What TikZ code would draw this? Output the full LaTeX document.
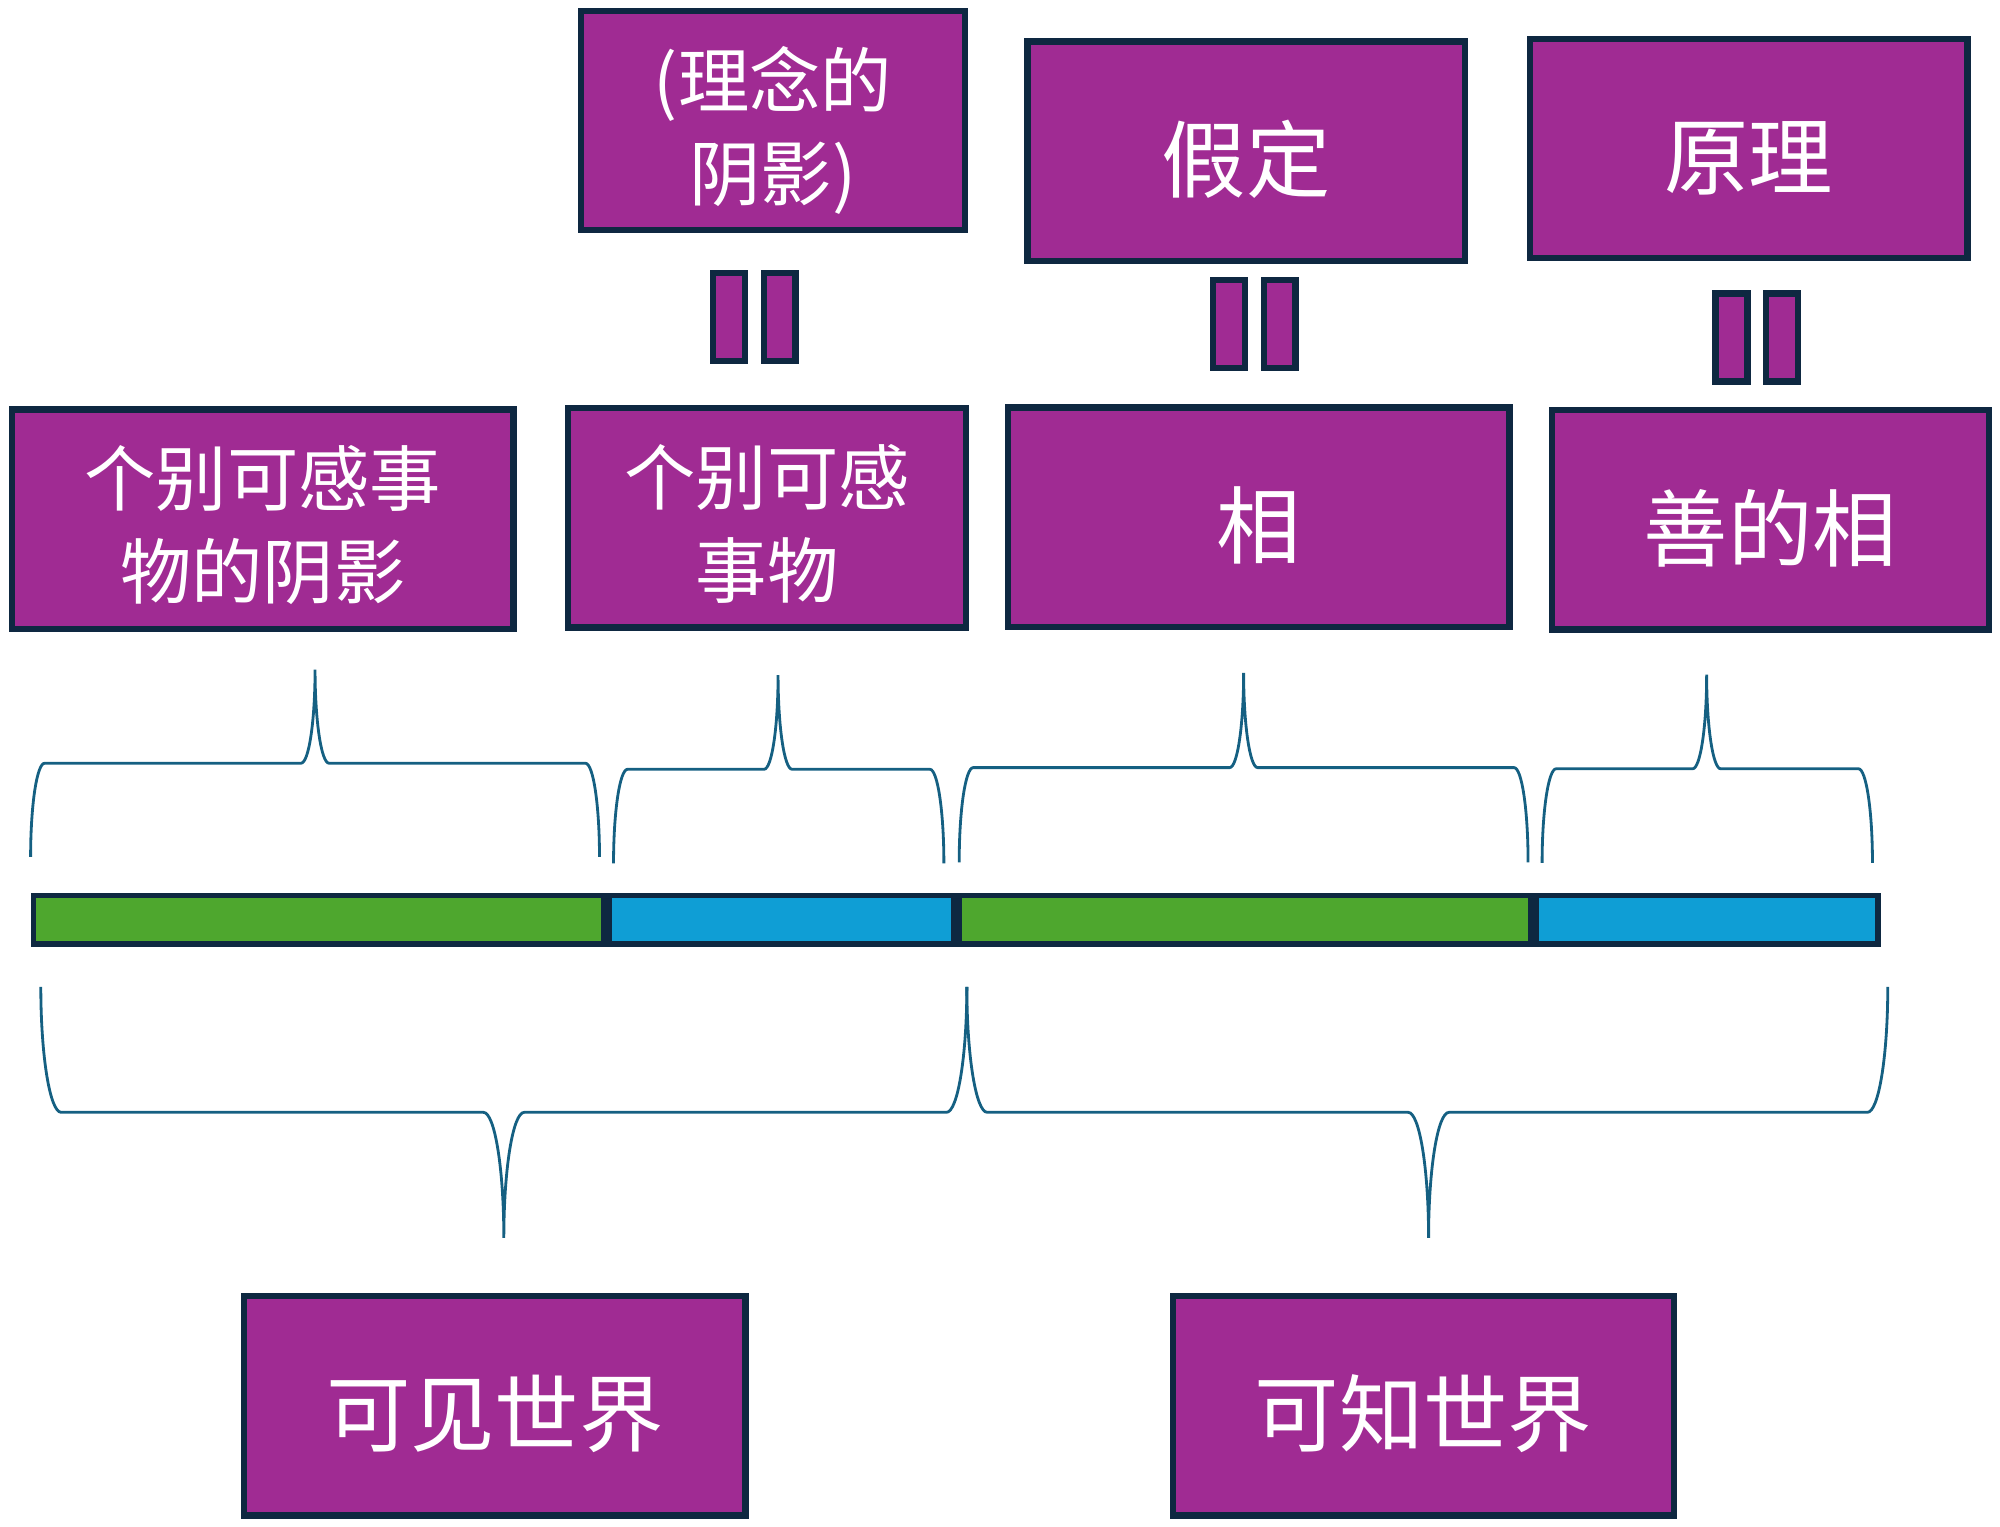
\documentclass[tikz,border=0pt]{standalone}
\usepackage{fontspec}
\setmainfont{Noto Sans CJK SC}
\usetikzlibrary{positioning}
\definecolor{boxfill}{HTML}{A02B93}
\definecolor{boxline}{HTML}{0E2841}
\definecolor{greenbar}{HTML}{4EA72E}
\definecolor{bluebar}{HTML}{0F9ED5}
\definecolor{bracecol}{HTML}{156082}
\def\pxu{0.012755cm}
\tikzset{
    box/.style={draw=boxline, line width=1.8pt, fill=boxfill, text=white, align=center,
        inner sep=0pt, minimum height=172*\pxu},
    twoline/.style={font=\fontsize{20.3}{26.5}\selectfont, text height=47.3pt, text depth=2pt},
    oneline/.style={font=\fontsize{24}{28}\selectfont, text height=25.9pt, text depth=3pt},
    eqbar/.style={draw=boxline, line width=1.8pt, fill=boxfill, inner sep=0pt,
        minimum width=25*\pxu, minimum height=69*\pxu},
    seg/.style={draw=boxline, line width=1.6pt, inner sep=0pt, minimum height=38*\pxu},
    brace/.style={draw=bracecol, line width=0.8pt},
}
% left x, right x, tip x, end y, tip y, corner
\newcommand{\drawbrace}[6]{%
    \pgfmathsetmacro\bym{(#4+#5)/2}
    \pgfmathsetmacro\byk{0.5523*(#4-#5)/2}
    \pgfmathsetmacro\bxk{0.5523*#6}
    \draw[brace] (#1,#4) .. controls (#1,{#4-(\byk)}) and ({#1+#6-\bxk},\bym) .. ({#1+#6},\bym)
        -- ({#3-#6},\bym) .. controls ({#3-#6+\bxk},\bym) and (#3,{#5+(\byk)}) .. (#3,#5)
        .. controls (#3,{#5+(\byk)}) and ({#3+#6-\bxk},\bym) .. ({#3+#6},\bym)
        -- ({#2-#6},\bym) .. controls ({#2-#6+\bxk},\bym) and (#2,{#4-(\byk)}) .. (#2,#4);
}

\begin{document}
\begin{tikzpicture}[x=0.012755cm, y=-0.012755cm]
    \useasboundingbox (0,0) rectangle (1568,1196.4);
    % top row
    \node[box, twoline, minimum width=301*\pxu] (t1) at (606,94.5) {(理念的\\阴影)};
    \node[box, oneline, minimum width=343*\pxu] (t2) at (977,118.5) {假定};
    \node[box, oneline, minimum width=343*\pxu] (t3) at (1371,116.5) {原理};
    % second row
    \node[box, twoline, minimum width=393*\pxu] (s1) at (206,407) {个别可感事\\物的阴影};
    \node[box, twoline, minimum width=312*\pxu] (s2) at (601.5,406) {个别可感\\事物};
    \node[box, oneline, minimum width=393*\pxu] (s3) at (987,405.5) {相};
    \node[box, oneline, minimum width=343*\pxu] (s4) at (1388,407.5) {善的相};
    % equals signs
    \foreach \x/\y [count=\i] in {571.5/248.5, 963.5/254, 1357.5/264.5} {
        \node[eqbar] (e\i a) at (\x,\y) {};
        \node[eqbar, right=0.125cm of e\i a] (e\i b) {};
    }
    % the line
    \node[seg, fill=greenbar, minimum width=447*\pxu, anchor=west] (g1) at (24,721) {};
    \node[seg, fill=bluebar, minimum width=270*\pxu, right=0pt of g1] (b1) {};
    \node[seg, fill=greenbar, minimum width=448*\pxu, right=0pt of b1] (g2) {};
    \node[seg, fill=bluebar, minimum width=268*\pxu, right=0pt of g2] (b2) {};
    % braces
    \drawbrace{24}{470}{247}{671.7}{525}{11}
    \drawbrace{481}{740}{610}{676.9}{529.3}{11}
    \drawbrace{752}{1198}{975}{676}{527.6}{11}
    \drawbrace{1209}{1468}{1338}{676.5}{528.9}{11}
    \drawbrace{32}{758}{395}{773.7}{970.4}{16}
    \drawbrace{758}{1480}{1120}{773.7}{970.4}{16}
    % bottom row
    \node[box, oneline, minimum width=393*\pxu] (w1) at (388,1102) {可见世界};
    \node[box, oneline, minimum width=393*\pxu] (w2) at (1116,1102) {可知世界};
\end{tikzpicture}
\end{document}
